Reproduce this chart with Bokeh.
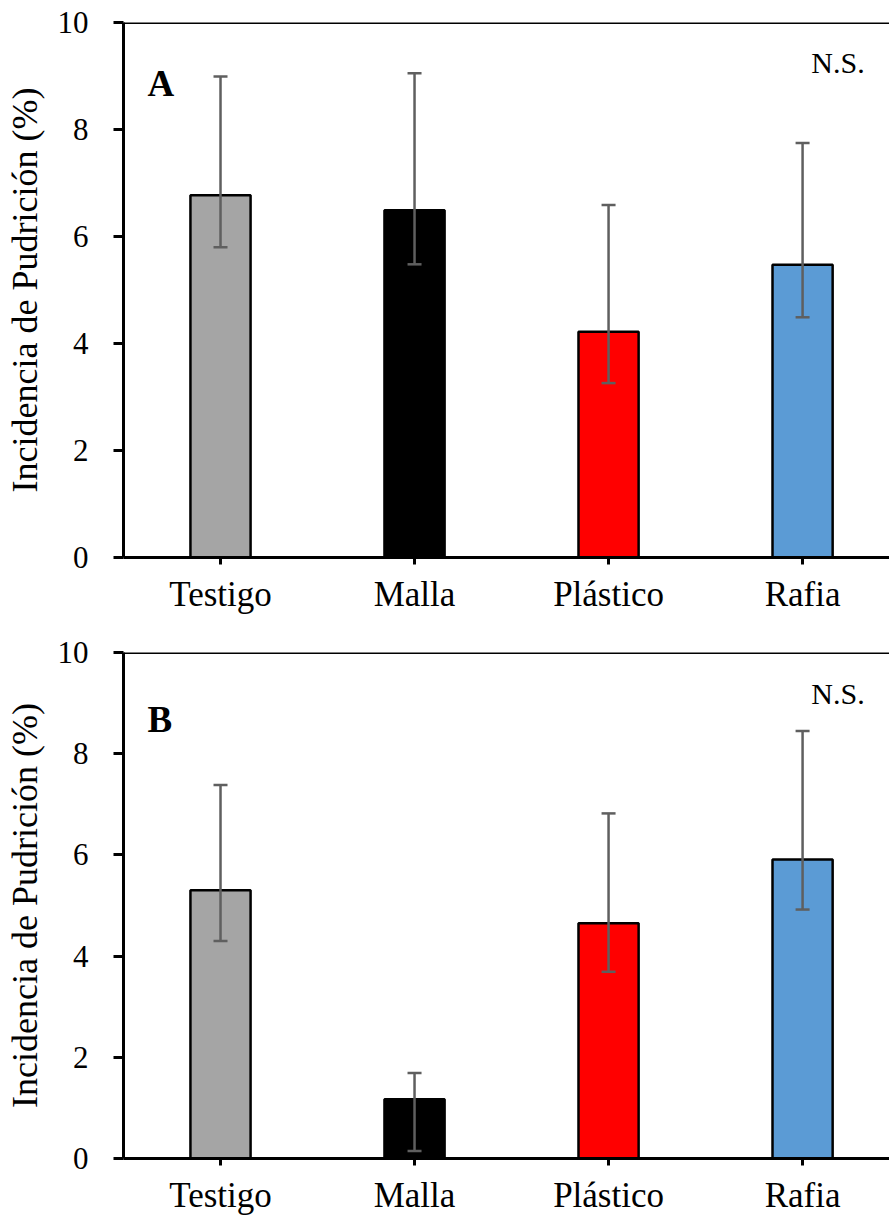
from bokeh.plotting import figure
from bokeh.models import (Range1d, FixedTicker, Whisker, TeeHead,
                          ColumnDataSource, Span, Label)
from bokeh.layouts import column
from bokeh.embed import file_html
from bokeh.resources import INLINE

# Treatments and bar colours
categories = ["Testigo", "Malla", "Plástico", "Rafia"]
bar_colors = ["#A5A5A5", "#000000", "#FF0000", "#5B9BD5"]

# Panel A: mean incidence with upper/lower error limits (%)
mean_a = [6.77, 6.49, 4.22, 5.47]
upper_a = [8.99, 9.05, 6.59, 7.75]
lower_a = [5.80, 5.48, 3.26, 4.49]

# Panel B: mean incidence with upper/lower error limits (%)
mean_b = [5.30, 1.17, 4.65, 5.91]
upper_b = [7.38, 1.69, 6.82, 8.45]
lower_b = [4.30, 0.15, 3.69, 4.92]

y_ticks = [0, 2, 4, 6, 8, 10]
panel_names = ["A", "B"]
significance = "N.S."
y_title = "Incidencia de Pudrición (%)"

FONT = "Liberation Serif"
ERR_COLOR = "#5F5F5F"


def make_panel(name, means, upper, lower, height, border_bottom,
               name_y, sig_y):
    src = ColumnDataSource(dict(
        x=list(range(len(categories))),
        mean=means, upper=upper, lower=lower, color=bar_colors,
    ))
    p = figure(width=889, height=height,
               x_range=Range1d(-0.5, 3.448), y_range=Range1d(0, 10),
               output_backend="svg", toolbar_location=None,
               min_border_left=123, min_border_right=0,
               min_border_top=22, min_border_bottom=border_bottom)
    p.grid.visible = False
    p.outline_line_color = None
    p.background_fill_color = "white"
    p.border_fill_color = "white"

    p.vbar(x="x", top="mean", width=0.31, fill_color="color",
           line_color="black", line_width=2.5, source=src)

    # error bars drawn on top of the bars
    head_u = TeeHead(size=14, line_color=ERR_COLOR, line_width=2.5)
    head_l = TeeHead(size=14, line_color=ERR_COLOR, line_width=2.5)
    p.add_layout(Whisker(base="x", upper="upper", lower="lower", source=src,
                         line_color=ERR_COLOR, line_width=2.5,
                         upper_head=head_u, lower_head=head_l,
                         level="overlay"))

    # top border of the plot area
    p.add_layout(Span(location=10, dimension="width", line_color="black",
                      line_width=3))

    # x axis
    xa = p.xaxis[0]
    xa.ticker = FixedTicker(ticks=list(range(len(categories))))
    xa.major_label_overrides = {i: c for i, c in enumerate(categories)}
    xa.minor_tick_line_color = None
    xa.major_tick_in = 0
    xa.major_tick_out = 7
    xa.major_tick_line_width = 3
    xa.axis_line_width = 3
    xa.major_label_text_font = FONT
    xa.major_label_text_font_size = "35px"
    xa.major_label_text_color = "black"
    xa.major_label_standoff = 10

    # y axis
    ya = p.yaxis[0]
    ya.ticker = FixedTicker(ticks=y_ticks)
    ya.minor_tick_line_color = None
    ya.major_tick_in = 0
    ya.major_tick_out = 10
    ya.major_tick_line_width = 3
    ya.axis_line_width = 3
    ya.major_label_text_font = FONT
    ya.major_label_text_font_size = "31px"
    ya.major_label_text_color = "black"
    ya.major_label_standoff = 25
    ya.axis_label = y_title
    ya.axis_label_text_font = FONT
    ya.axis_label_text_font_style = "normal"
    ya.axis_label_text_font_size = "36px"
    ya.axis_label_text_color = "black"
    ya.axis_label_standoff = 10

    p.add_layout(Label(x=-0.376, y=name_y, text=name, text_font=FONT,
                       text_font_style="bold", text_font_size="37px",
                       text_color="black", text_baseline="alphabetic"))
    p.add_layout(Label(x=3.045, y=sig_y, text=significance, text_font=FONT,
                       text_font_size="30px", text_color="black",
                       text_baseline="alphabetic"))
    return p


pa = make_panel(panel_names[0], mean_a, upper_a, lower_a,
                height=630, border_bottom=73, name_y=8.86, sig_y=9.25)
pb = make_panel(panel_names[1], mean_b, upper_b, lower_b,
                height=588, border_bottom=60, name_y=8.68, sig_y=9.19)

layout = column(pa, pb, spacing=0)
open("out.html", "w").write(file_html(layout, INLINE))
